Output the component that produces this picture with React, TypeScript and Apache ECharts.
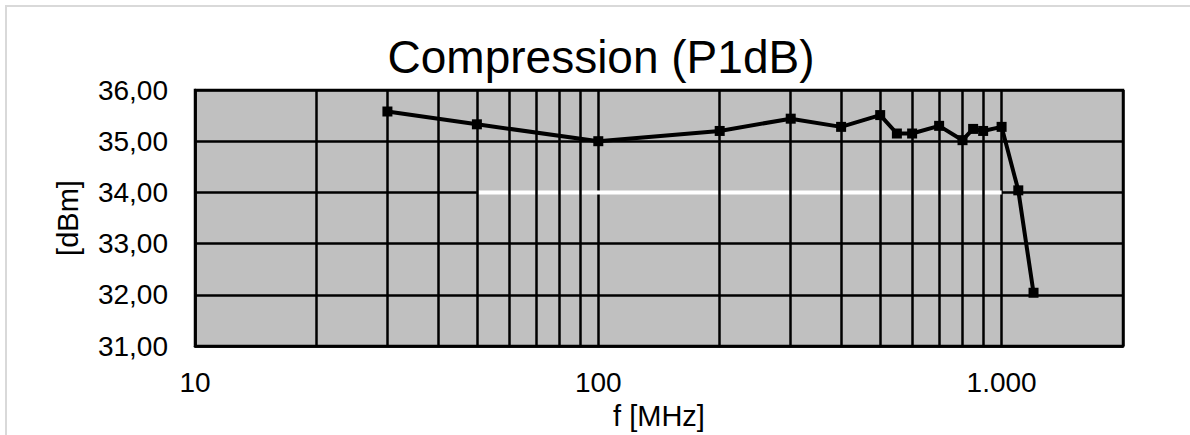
import React, { useEffect, useRef } from "react";
import * as echarts from "echarts";

const freqMHz = [30, 50, 100, 200, 300, 400, 500, 550, 600, 700, 800, 850, 900, 1000, 1100, 1200];
const p1dB = [35.58, 35.33, 35.0, 35.2, 35.44, 35.28, 35.51, 35.15, 35.15, 35.3, 35.02, 35.24, 35.2, 35.28, 34.04, 32.04];
const specFreq = [50, 1000];
const specLevel = [34, 34];
const minorGridFreq = [20, 30, 40, 50, 60, 70, 80, 90, 200, 300, 400, 500, 600, 700, 800, 900];
const xTickValues = [10, 100, 1000];
const xTickLabels = ["10", "100", "1.000"];

export default function App() {
  const ref = useRef<HTMLDivElement>(null);
  useEffect(() => {
    document.body.style.margin = "0";
    const chart = echarts.init(ref.current!, undefined, { renderer: "svg" });
    const font = "Liberation Sans, Arial, sans-serif";
    chart.setOption({
      animation: false,
      backgroundColor: "#ffffff",
      grid: {
        left: 195,
        right: 67,
        top: 90,
        bottom: 85,
        show: true,
        backgroundColor: "#c0c0c0",
        borderColor: "#000",
        borderWidth: 2.5,
      },
      graphic: [
        { type: "line", shape: { x1: 5, y1: 6, x2: 1190, y2: 6 }, style: { stroke: "#d9d9d9", lineWidth: 2 } },
        { type: "line", shape: { x1: 6, y1: 5, x2: 6, y2: 435 }, style: { stroke: "#d9d9d9", lineWidth: 2 } },
        {
          type: "text",
          x: 601,
          y: 57,
          style: {
            text: "Compression (P1dB)",
            fontSize: 46,
            fontFamily: font,
            fill: "#000",
            textAlign: "center",
            textVerticalAlign: "middle",
          },
        },
      ],
      xAxis: {
        type: "log",
        logBase: 10,
        min: 10,
        max: 2000,
        name: "f [MHz]",
        nameLocation: "middle",
        nameGap: 55,
        nameTextStyle: { fontSize: 29, fontFamily: font, color: "#000" },
        axisLine: { show: true, lineStyle: { color: "#000", width: 2.5 } },
        axisTick: { show: false },
        axisLabel: {
          fontSize: 28,
          fontFamily: font,
          color: "#000",
          margin: 22,
          formatter: (v: number) => {
            const i = xTickValues.findIndex((t) => Math.abs(t - v) < 1e-6 * t);
            return i >= 0 ? xTickLabels[i] : "";
          },
        },
        splitLine: { show: true, lineStyle: { color: "#000", width: 2.5 } },
      },
      yAxis: {
        type: "value",
        min: 31,
        max: 36,
        interval: 1,
        name: "[dBm]",
        nameLocation: "middle",
        nameRotate: 90,
        nameGap: 113,
        nameTextStyle: { fontSize: 29, fontFamily: font, color: "#000" },
        axisLine: { show: true, lineStyle: { color: "#000", width: 2.5 } },
        axisTick: { show: false },
        axisLabel: {
          fontSize: 28,
          fontFamily: font,
          color: "#000",
          margin: 27,
          formatter: (v: number) => v.toFixed(2).replace(".", ","),
        },
        splitLine: { show: true, lineStyle: { color: "#000", width: 2.5 } },
      },
      series: [
        {
          type: "line",
          data: [],
          z: 1,
          markLine: {
            silent: true,
            symbol: ["none", "none"],
            label: { show: false },
            lineStyle: { color: "#000", width: 2.5, type: "solid" },
            emphasis: { disabled: true },
            data: minorGridFreq.map((f) => ({ xAxis: f })),
          },
        },
        {
          type: "line",
          z: 2,
          data: specFreq.map((f, i) => [f, specLevel[i]]),
          showSymbol: false,
          lineStyle: { color: "#ffffff", width: 4 },
        },
        {
          type: "line",
          z: 3,
          data: freqMHz.map((f, i) => [f, p1dB[i]]),
          symbol: "rect",
          symbolSize: 10,
          itemStyle: { color: "#000" },
          lineStyle: { color: "#000", width: 4 },
        },
      ],
    });
    return () => chart.dispose();
  }, []);
  return <div ref={ref} style={{ width: 1190, height: 435, position: "absolute", left: 0, top: 0 }} />;
}
